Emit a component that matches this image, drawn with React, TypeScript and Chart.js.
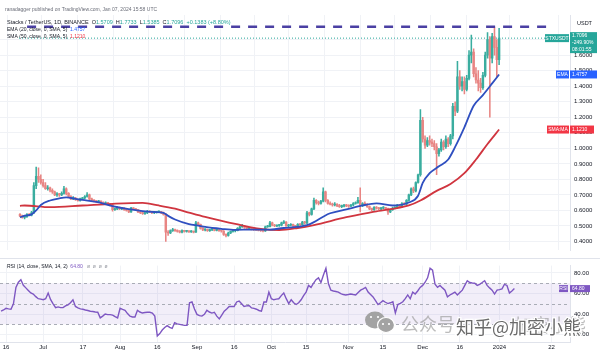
import React, { useEffect, useRef } from "react";
import { Chart, registerables } from "chart.js";

Chart.register(...registerables);

// day 0 = Jun 16, 2023; candles run from Jun 14, 2023 (day -2) to Jan 07, 2024 (day 205)
const FIRST_DAY = -2;

const opens = [
  0.575,0.565,0.555,0.56,0.575,0.57,0.585,0.76,0.82,0.80,
  0.78,0.76,0.74,0.745,0.73,0.72,0.70,0.705,0.70,0.71,
  0.74,0.71,0.69,0.675,0.68,0.67,0.665,0.675,0.68,0.69,
  0.70,0.675,0.665,0.66,0.655,0.66,0.65,0.645,0.65,0.64,
  0.635,0.605,0.61,0.62,0.61,0.615,0.605,0.60,0.59,0.615,
  0.61,0.605,0.59,0.585,0.58,0.585,0.595,0.59,0.585,0.588,
  0.59,0.592,0.585,0.575,0.46,0.455,0.47,0.475,0.47,0.465,
  0.46,0.47,0.465,0.468,0.462,0.465,0.46,0.52,0.51,0.485,
  0.475,0.478,0.47,0.475,0.48,0.472,0.474,0.47,0.468,0.445,
  0.44,0.455,0.465,0.47,0.47,0.485,0.495,0.498,0.49,0.485,
  0.487,0.48,0.478,0.476,0.472,0.47,0.468,0.495,0.496,0.52,
  0.505,0.50,0.503,0.505,0.52,0.525,0.50,0.505,0.51,0.50,
  0.498,0.51,0.508,0.525,0.52,0.585,0.575,0.61,0.665,0.65,
  0.645,0.66,0.72,0.665,0.645,0.64,0.635,0.64,0.63,0.625,
  0.628,0.635,0.63,0.628,0.635,0.645,0.65,0.665,0.635,0.645,
  0.64,0.625,0.61,0.605,0.62,0.615,0.61,0.615,0.618,0.612,
  0.59,0.605,0.615,0.62,0.635,0.625,0.645,0.64,0.665,0.70,
  0.74,0.725,0.78,0.83,1.18,1.06,1.02,1.05,1.04,1.03,
  1.01,0.965,0.99,1.04,1.01,1.06,1.03,1.08,1.27,1.24,
  1.46,1.40,1.43,1.38,1.45,1.60,1.62,1.48,1.44,1.42,
  1.39,1.47,1.60,1.70,1.58,1.72,1.65,1.5709,
];
const highs = [
  0.58,0.57,0.565,0.58,0.58,0.595,0.78,0.88,0.875,0.83,
  0.80,0.78,0.76,0.75,0.74,0.725,0.715,0.71,0.72,0.755,
  0.745,0.715,0.695,0.69,0.685,0.675,0.68,0.685,0.695,0.715,
  0.705,0.68,0.67,0.665,0.665,0.662,0.655,0.655,0.652,0.645,
  0.64,0.615,0.625,0.622,0.62,0.618,0.61,0.605,0.62,0.618,
  0.612,0.608,0.595,0.59,0.59,0.60,0.598,0.595,0.592,0.595,
  0.598,0.595,0.59,0.58,0.47,0.475,0.485,0.48,0.475,0.47,
  0.475,0.472,0.472,0.47,0.47,0.468,0.53,0.525,0.512,0.49,
  0.482,0.48,0.478,0.485,0.482,0.478,0.476,0.472,0.47,0.45,
  0.46,0.468,0.475,0.475,0.49,0.50,0.51,0.502,0.495,0.49,
  0.49,0.485,0.482,0.48,0.476,0.474,0.50,0.505,0.53,0.525,
  0.51,0.508,0.51,0.525,0.535,0.528,0.51,0.515,0.512,0.505,
  0.515,0.515,0.53,0.53,0.595,0.59,0.615,0.68,0.67,0.66,
  0.665,0.745,0.725,0.67,0.655,0.648,0.65,0.645,0.64,0.635,
  0.64,0.64,0.636,0.64,0.65,0.655,0.685,0.745,0.65,0.655,
  0.645,0.63,0.615,0.625,0.625,0.62,0.62,0.625,0.62,0.615,
  0.61,0.62,0.625,0.64,0.64,0.65,0.65,0.67,0.705,0.745,
  0.75,0.785,0.835,1.25,1.20,1.08,1.07,1.08,1.06,1.05,
  1.03,1.00,1.06,1.05,1.08,1.07,1.09,1.29,1.30,1.56,
  1.50,1.46,1.46,1.47,1.63,1.73,1.64,1.52,1.50,1.45,
  1.49,1.62,1.745,1.72,1.74,1.78,1.70,1.7733,
];
const lows = [
  0.56,0.55,0.545,0.555,0.565,0.565,0.58,0.74,0.78,0.77,
  0.75,0.735,0.73,0.72,0.71,0.695,0.69,0.69,0.695,0.705,
  0.70,0.685,0.67,0.67,0.665,0.66,0.66,0.67,0.675,0.685,
  0.67,0.66,0.655,0.65,0.65,0.645,0.64,0.64,0.635,0.63,
  0.595,0.60,0.605,0.605,0.605,0.60,0.595,0.585,0.588,0.605,
  0.60,0.585,0.58,0.575,0.575,0.58,0.585,0.58,0.58,0.583,
  0.585,0.58,0.57,0.40,0.44,0.45,0.465,0.465,0.46,0.455,
  0.455,0.46,0.46,0.458,0.458,0.455,0.458,0.505,0.48,0.47,
  0.468,0.465,0.465,0.47,0.468,0.468,0.465,0.46,0.44,0.43,
  0.435,0.45,0.46,0.462,0.468,0.48,0.49,0.485,0.48,0.478,
  0.475,0.472,0.47,0.468,0.465,0.462,0.465,0.49,0.494,0.50,
  0.495,0.495,0.498,0.50,0.515,0.498,0.495,0.50,0.495,0.49,
  0.495,0.502,0.505,0.512,0.515,0.565,0.57,0.605,0.64,0.635,
  0.64,0.655,0.655,0.64,0.635,0.628,0.63,0.625,0.62,0.618,
  0.622,0.625,0.62,0.625,0.63,0.64,0.645,0.59,0.625,0.635,
  0.62,0.605,0.598,0.60,0.608,0.605,0.605,0.61,0.605,0.575,
  0.585,0.60,0.61,0.615,0.62,0.62,0.635,0.638,0.66,0.695,
  0.715,0.72,0.775,0.82,1.04,1.00,1.01,1.02,1.01,0.99,
  0.83,0.95,0.98,0.99,1.00,1.01,1.02,1.06,1.21,1.23,
  1.38,1.37,1.35,1.37,1.44,1.55,1.46,1.42,1.37,1.36,
  1.38,1.46,1.58,1.20,1.55,1.60,1.46,1.5385,
];
const closes = [
  0.565,0.555,0.56,0.575,0.57,0.585,0.76,0.82,0.80,0.78,
  0.76,0.74,0.745,0.73,0.72,0.70,0.705,0.70,0.71,0.74,
  0.71,0.69,0.675,0.68,0.67,0.665,0.675,0.68,0.69,0.70,
  0.675,0.665,0.66,0.655,0.66,0.65,0.645,0.65,0.64,0.635,
  0.605,0.61,0.62,0.61,0.615,0.605,0.60,0.59,0.615,0.61,
  0.605,0.59,0.585,0.58,0.585,0.595,0.59,0.585,0.588,0.59,
  0.592,0.585,0.575,0.46,0.455,0.47,0.475,0.47,0.465,0.46,
  0.47,0.465,0.468,0.462,0.465,0.46,0.52,0.51,0.485,0.475,
  0.478,0.47,0.475,0.48,0.472,0.474,0.47,0.468,0.445,0.44,
  0.455,0.465,0.47,0.47,0.485,0.495,0.498,0.49,0.485,0.487,
  0.48,0.478,0.476,0.472,0.47,0.468,0.495,0.496,0.52,0.505,
  0.50,0.503,0.505,0.52,0.525,0.50,0.505,0.51,0.50,0.498,
  0.51,0.508,0.525,0.52,0.585,0.575,0.61,0.665,0.65,0.645,
  0.66,0.72,0.665,0.645,0.64,0.635,0.64,0.63,0.625,0.628,
  0.635,0.63,0.628,0.635,0.645,0.65,0.665,0.635,0.645,0.64,
  0.625,0.61,0.605,0.62,0.615,0.61,0.615,0.618,0.612,0.59,
  0.605,0.615,0.62,0.635,0.625,0.645,0.64,0.665,0.70,0.74,
  0.725,0.78,0.83,1.18,1.06,1.02,1.05,1.04,1.03,1.01,
  0.965,0.99,1.04,1.01,1.06,1.03,1.08,1.27,1.24,1.46,
  1.40,1.43,1.38,1.45,1.60,1.62,1.48,1.44,1.42,1.39,
  1.47,1.60,1.70,1.58,1.72,1.65,1.5709,1.7096,
];

// EMA (20) at sample days
const emaDays = [-2, 0, 3, 5, 7, 11, 15, 18, 22, 25, 31, 38, 45, 51, 56, 60, 62, 65, 71, 75, 78, 85, 91, 98, 105, 112, 118, 122, 125, 129, 132, 139, 146, 152, 159, 166, 170, 172, 175, 179, 183, 186, 190, 194, 198, 202, 205];
const emaValues = [0.556, 0.566, 0.575, 0.60, 0.635, 0.664, 0.678, 0.684, 0.675, 0.668, 0.655, 0.628, 0.608, 0.596, 0.59, 0.585, 0.565, 0.542, 0.512, 0.502, 0.494, 0.482, 0.475, 0.477, 0.476, 0.487, 0.494, 0.505, 0.525, 0.56, 0.582, 0.607, 0.632, 0.645, 0.632, 0.651, 0.695, 0.777, 0.84, 0.884, 0.928, 1.009, 1.135, 1.274, 1.343, 1.418, 1.4757];

// SMA (50) at sample days
const smaDays = [-2, 0, 11, 25, 38, 51, 58, 65, 71, 78, 91, 105, 110, 118, 125, 139, 152, 166, 171, 178, 184, 190, 195, 200, 205];
const smaValues = [0.63, 0.632, 0.621, 0.632, 0.643, 0.649, 0.632, 0.611, 0.586, 0.558, 0.513, 0.476, 0.474, 0.487, 0.506, 0.557, 0.594, 0.632, 0.664, 0.726, 0.77, 0.84, 0.928, 1.028, 1.121];

// RSI (14), one value per candle
const rsiValues = [
  42.8,44,45.6,45,44.7,50,66,71,73.5,68,
  65.5,63,60.5,59.5,57,55,54.5,54,54.9,60.5,
  54,50,46.3,47,46.3,46.3,48,49,51,53.9,
  47.4,46,45,44.7,44,43.5,42.8,42.5,42,41.8,
  36.3,38,40,39.5,39.5,39,37.5,36.3,45.6,44.5,
  43.7,40.5,38,37.2,37.2,43.7,42,41,41.5,41.8,
  41.8,41,38,18.6,21,24.5,27,28.8,27,26,
  31.6,30.5,30,29.5,29,29,51,51.8,45,39.7,
  38.5,38,39.7,43.7,42,41,41.8,38,35.3,39,
  42.8,45,47.4,47.4,47.4,51.8,52.7,50,47.4,48,
  48.3,46,45.5,44.7,43.5,42.8,51.8,51.8,61.4,55,
  53.9,54.5,54.9,58,60.5,55,50.2,53.9,51,49.3,
  51,53.9,58,61.4,67.9,66,70,73.5,75.3,70.7,
  78,84.6,69.8,63.3,62.5,62,61.4,60,59,58.6,
  59,59.5,59,58.6,61,63.3,64.5,66,61.4,59,
  56.7,53,49.3,51,53,51.5,50.2,51,52,41,
  49.3,50.5,52,55,58.6,54.9,61.4,59.5,62.5,66,
  67.9,71,75.3,84.6,82.8,69,66,67.9,65.5,63.3,
  56.8,58.6,60,61.4,58.6,61,63.3,67.9,72.5,70.7,
  70.3,70,67.9,69,70.7,72.5,67.9,65.5,63.3,59.5,
  63.3,63.8,64.5,69,67.9,60.5,62.5,64.8,
];

const tickDays = [0, 15, 31, 46, 61, 77, 92, 107, 121, 138, 152, 168, 183, 199, 220];
const tickLabels = ["16", "Jul", "17", "Aug", "16", "Sep", "16", "Oct", "15", "Nov", "15", "Dec", "16", "2024", "22"];
const priceTicks = [0.4, 0.5, 0.6, 0.7, 0.8, 0.9, 1.0, 1.1, 1.2, 1.3, 1.4, 1.5, 1.6, 1.7];
const rsiTicks = [20, 40, 60, 80];
const rsiBands = [70, 50, 30];

const resistanceLevel = 1.783;
const lastClose = 1.7096;
const emaLast = 1.4757;
const smaLast = 1.121;
const rsiLast = 64.8;

const X_MIN = -2.42;
const X_MAX = 227.42;
const PRICE_MIN = 0.3428;
const PRICE_MAX = 1.8585;
const RSI_MIN = 12.8;
const RSI_MAX = 87.2;

const FONT = '"Liberation Sans", Arial, sans-serif';
const UP = "#26a69a";
const DOWN = "#ef5350";
const UP_CANDLE = "#3aad9f";
const DOWN_CANDLE = "#e88583";
const EMA_COLOR = "#2f4fc0";
const SMA_COLOR = "#d0353f";
const RSI_COLOR = "#7e57c2";
const TEXT = "#131722";
const GRID = "#f0f2f6";

const days = opens.map((_, i) => FIRST_DAY + i);

function runs(ctx: any, x: number, y: number, parts: [string, string][]) {
  let cx = x;
  for (const [t, c] of parts) {
    ctx.fillStyle = c;
    ctx.fillText(t, cx, y);
    cx += ctx.measureText(t).width;
  }
}

function tag(ctx: any, left: number, top: number, w: number, h: number, bg: string, lines: string[], align = "left") {
  ctx.fillStyle = bg;
  ctx.fillRect(left, top, w, h);
  ctx.fillStyle = "#ffffff";
  ctx.textBaseline = "middle";
  ctx.textAlign = align;
  const step = h / lines.length;
  lines.forEach((l, i) => {
    const tx = align === "center" ? left + w / 2 : left + 2;
    ctx.fillText(l, tx, top + step * (i + 0.5) + 0.3);
  });
  ctx.textAlign = "left";
}

const xScale = (labels: boolean) => ({
  type: "linear",
  min: X_MIN,
  max: X_MAX,
  afterBuildTicks: (s: any) => {
    s.ticks = tickDays.map((v) => ({ value: v }));
  },
  afterFit: (s: any) => {
    s.height = labels ? 11 : 0;
  },
  grid: { color: GRID, drawTicks: false },
  border: { display: labels, color: "#e0e3eb" },
  ticks: {
    display: labels,
    autoSkip: false,
    maxRotation: 0,
    padding: 2,
    color: TEXT,
    font: { size: 6, family: FONT },
    callback: (_v: any, i: number) => tickLabels[i],
  },
});

const topOverlay = {
  id: "topOverlay",
  afterDraw(chart: any) {
    const ctx = chart.ctx;
    const y = chart.scales.y;
    ctx.save();
    ctx.textBaseline = "middle";
    ctx.font = `5px ${FONT}`;
    runs(ctx, 5, 10, [["ranadagger published on TradingView.com, Jan 07, 2024 15:58 UTC", "#6a6d78"]]);
    ctx.font = `5.5px ${FONT}`;
    runs(ctx, 7, 22, [
      ["Stacks / TetherUS, 1D, BINANCE  ", TEXT],
      ["O", TEXT], ["1.5709  ", UP],
      ["H", TEXT], ["1.7733  ", UP],
      ["L", TEXT], ["1.5385  ", UP],
      ["C", TEXT], ["1.7096  ", UP],
      ["+0.1383 (+8.80%)", UP],
    ]);
    ctx.font = `5px ${FONT}`;
    runs(ctx, 7, 29.5, [["EMA (20, close, 0, SMA, 5)  ", TEXT], [emaLast.toFixed(4), "#2962ff"]]);
    runs(ctx, 7, 37, [["SMA (50, close, 0, SMA, 5)  ", TEXT], [smaLast.toFixed(4), "#f23645"]]);

    ctx.font = `5.5px ${FONT}`;
    ctx.fillStyle = TEXT;
    ctx.fillText("USDT", 577, 23);

    ctx.font = `5px ${FONT}`;
    const yc = y.getPixelForValue(lastClose);
    tag(ctx, 545, yc - 4, 24, 8, UP, ["STXUSDT"], "center");
    tag(ctx, 570, yc - 6, 27, 21, UP, [lastClose.toFixed(4), "-249.90%", "08:01:55"]);
    const ye = y.getPixelForValue(emaLast);
    tag(ctx, 556, ye - 4, 13, 8, "#2962ff", ["EMA"], "center");
    tag(ctx, 570, ye - 4, 27, 8, "#2962ff", [emaLast.toFixed(4)]);
    const ys = y.getPixelForValue(smaLast);
    tag(ctx, 547, ys - 4, 22, 8, "#f23645", ["SMA:MA"], "center");
    tag(ctx, 570, ys - 4, 24, 8, "#f23645", [smaLast.toFixed(4)]);
    ctx.restore();
  },
};

const rsiOverlay = {
  id: "rsiOverlay",
  beforeDatasetsDraw(chart: any) {
    const ctx = chart.ctx;
    const y = chart.scales.y;
    const a = chart.chartArea;
    ctx.save();
    const yTop = y.getPixelForValue(rsiBands[0]);
    const yBot = y.getPixelForValue(rsiBands[2]);
    ctx.fillStyle = "rgba(126,87,194,0.10)";
    ctx.fillRect(a.left, yTop, a.right - a.left, yBot - yTop);
    ctx.strokeStyle = "#a9acb6";
    ctx.lineWidth = 1;
    ctx.setLineDash([3, 3]);
    for (const b of rsiBands) {
      const py = Math.round(y.getPixelForValue(b)) + 0.5;
      ctx.beginPath();
      ctx.moveTo(a.left, py);
      ctx.lineTo(a.right, py);
      ctx.stroke();
    }
    ctx.restore();
  },
  afterDraw(chart: any) {
    const ctx = chart.ctx;
    const y = chart.scales.y;
    ctx.save();
    ctx.strokeStyle = "#e0e3eb";
    ctx.lineWidth = 1;
    ctx.beginPath();
    ctx.moveTo(0, 0.5);
    ctx.lineTo(600, 0.5);
    ctx.stroke();

    ctx.textBaseline = "middle";
    ctx.font = `5px ${FONT}`;
    runs(ctx, 7, 9, [["RSI (14, close, SMA, 14, 2)  ", TEXT], [rsiLast.toFixed(2), RSI_COLOR], ["   ø  ø  ø  ø", "#9598a1"]]);

    const yr = y.getPixelForValue(rsiLast);
    tag(ctx, 559, yr - 3.5, 9, 7, RSI_COLOR, ["RSI"], "center");
    tag(ctx, 570, yr - 3.5, 20, 7, RSI_COLOR, [rsiLast.toFixed(2)]);

    // watermark (WeChat bubbles + account names)
    ctx.fillStyle = "#a3a3a3";
    ctx.beginPath();
    ctx.ellipse(375, 62, 10, 8.5, 0, 0, Math.PI * 2);
    ctx.fill();
    ctx.strokeStyle = "#ffffff";
    ctx.lineWidth = 1.2;
    ctx.beginPath();
    ctx.ellipse(386, 67, 8.5, 7.5, 0, 0, Math.PI * 2);
    ctx.fill();
    ctx.stroke();
    ctx.fillStyle = "#ffffff";
    for (const [cx, cy] of [[371, 59], [378, 59], [383, 66], [389, 66]]) {
      ctx.beginPath();
      ctx.arc(cx, cy, 1.1, 0, Math.PI * 2);
      ctx.fill();
    }
    ctx.textBaseline = "alphabetic";
    ctx.font = `18px "Noto Sans CJK SC"`;
    ctx.fillStyle = "rgba(160,160,160,0.7)";
    ctx.fillText("公众号", 401, 73);
    ctx.fillText("加密小熊", 514, 74);
    ctx.font = `18px "Noto Sans CJK SC"`;
    ctx.lineWidth = 2.5;
    ctx.strokeStyle = "#ffffff";
    ctx.strokeText("知乎@加密小熊", 456, 76);
    ctx.fillStyle = "rgba(70,70,70,0.8)";
    ctx.fillText("知乎@加密小熊", 456, 76);
    ctx.restore();
  },
};

export default function App() {
  const topRef = useRef<HTMLCanvasElement>(null);
  const rsiRef = useRef<HTMLCanvasElement>(null);

  useEffect(() => {
    Chart.defaults.font.family = FONT;
    const colors = days.map((_, i) => (closes[i] >= opens[i] ? UP_CANDLE : DOWN_CANDLE));
    const top = new Chart(topRef.current as any, {
      type: "bar",
      data: {
        datasets: [
          {
            type: "line",
            label: "EMA 20",
            data: emaDays.map((d, i) => ({ x: d, y: emaValues[i] })),
            borderColor: EMA_COLOR,
            borderWidth: 1.8,
            pointRadius: 0,
            cubicInterpolationMode: "monotone",
            order: 0,
          },
          {
            type: "line",
            label: "SMA 50",
            data: smaDays.map((d, i) => ({ x: d, y: smaValues[i] })),
            borderColor: SMA_COLOR,
            borderWidth: 1.8,
            pointRadius: 0,
            cubicInterpolationMode: "monotone",
            order: 0,
          },
          {
            type: "line",
            label: "Resistance",
            data: [{ x: X_MIN + 3.5, y: resistanceLevel }, { x: X_MAX, y: resistanceLevel }],
            borderColor: "#4b40a3",
            borderWidth: 2.5,
            borderDash: [9, 8],
            pointRadius: 0,
            order: 0,
          },
          {
            type: "line",
            label: "Last price",
            data: [{ x: X_MIN, y: lastClose }, { x: X_MAX, y: lastClose }],
            borderColor: UP,
            borderWidth: 1,
            borderDash: [1, 2],
            pointRadius: 0,
            order: 3,
          },
          {
            type: "bar",
            label: "Wicks",
            data: days.map((d, i) => ({ x: d, y: [lows[i], highs[i]] })),
            backgroundColor: colors,
            barThickness: 0.9,
            grouped: false,
            order: 2,
          },
          {
            type: "bar",
            label: "Bodies",
            data: days.map((d, i) => ({ x: d, y: [opens[i], closes[i]] })),
            backgroundColor: colors,
            barThickness: 1.8,
            minBarLength: 1,
            grouped: false,
            order: 1,
          },
        ] as any,
      },
      options: {
        responsive: false,
        animation: false,
        devicePixelRatio: 1,
        layout: { padding: { top: 15, bottom: 2, left: 0, right: 0 }, autoPadding: false },
        plugins: { legend: { display: false }, tooltip: { enabled: false } },
        scales: {
          x: xScale(false) as any,
          y: {
            position: "right",
            min: PRICE_MIN,
            max: PRICE_MAX,
            afterBuildTicks: (s: any) => {
              s.ticks = priceTicks.map((v) => ({ value: v }));
            },
            afterFit: (s: any) => {
              s.width = 30;
            },
            grid: { color: GRID, drawTicks: false },
            border: { display: true, color: "#e0e3eb" },
            ticks: {
              padding: 4,
              color: TEXT,
              font: { size: 6, family: FONT },
              callback: (v: any) => Number(v).toFixed(4),
            },
          } as any,
        },
      } as any,
      plugins: [topOverlay],
    });

    const rsi = new Chart(rsiRef.current as any, {
      type: "line",
      data: {
        datasets: [
          {
            label: "RSI 14",
            data: days.map((d, i) => ({ x: d, y: rsiValues[i] })),
            borderColor: RSI_COLOR,
            borderWidth: 1.4,
            pointRadius: 0,
          },
        ],
      },
      options: {
        responsive: false,
        animation: false,
        devicePixelRatio: 1,
        layout: { padding: { top: 4, bottom: 0, left: 0, right: 0 }, autoPadding: false },
        plugins: { legend: { display: false }, tooltip: { enabled: false } },
        scales: {
          x: xScale(true) as any,
          y: {
            position: "right",
            min: RSI_MIN,
            max: RSI_MAX,
            afterBuildTicks: (s: any) => {
              s.ticks = rsiTicks.map((v) => ({ value: v }));
            },
            afterFit: (s: any) => {
              s.width = 30;
            },
            grid: { color: GRID, drawTicks: false },
            border: { display: true, color: "#e0e3eb" },
            ticks: {
              padding: 4,
              color: TEXT,
              font: { size: 6, family: FONT },
              callback: (v: any) => Number(v).toFixed(2),
            },
          } as any,
        },
      } as any,
      plugins: [rsiOverlay],
    });

    return () => {
      top.destroy();
      rsi.destroy();
    };
  }, []);

  return (
    <div style={{ position: "fixed", left: 0, top: 0, width: 600, height: 353, background: "#ffffff" }}>
      <canvas ref={topRef} width={600} height={258} style={{ position: "absolute", left: 0, top: 0, width: 600, height: 258 }} />
      <canvas ref={rsiRef} width={600} height={95} style={{ position: "absolute", left: 0, top: 258, width: 600, height: 95 }} />
    </div>
  );
}
